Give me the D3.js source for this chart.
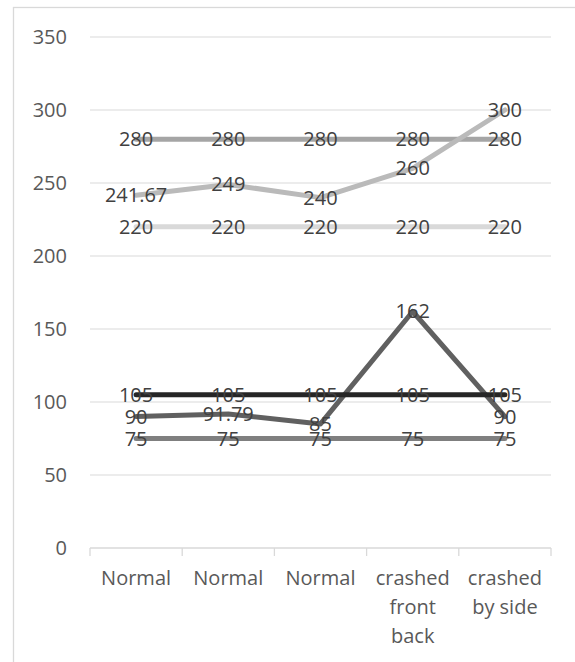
<!DOCTYPE html>
<html>
<head>
<meta charset="utf-8">
<script src="https://cdn.jsdelivr.net/npm/d3@7"></script>
<style>
  body { margin: 0; background: #fff; }
  svg { display: block; font-family: "Open Sans", sans-serif; }
</style>
</head>
<body>
<div id="chart"></div>
<script>
// Chart data
const categories = ["Normal", "Normal", "Normal", "crashed front back", "crashed by side"];
const upperFlat = [280, 280, 280, 280, 280];
const upperVar = [241.67, 249, 240, 260, 300];
const upperBase = [220, 220, 220, 220, 220];
const lowerVar = [90, 91.79, 85, 162, 90];
const lowerFlat = [105, 105, 105, 105, 105];
const lowerBase = [75, 75, 75, 75, 75];
const yTicks = [0, 50, 100, 150, 200, 250, 300, 350];

// draw order, later ones on top
const series = [
  { values: upperFlat, color: '#a5a5a5' },
  { values: upperVar, color: '#bababa' },
  { values: upperBase, color: '#d9d9d9' },
  { values: lowerVar, color: '#606060' },
  { values: lowerFlat, color: '#262626' },
  { values: lowerBase, color: '#7f7f7f' }
];

const W = 575, H = 662;
const margin = { top: 37, right: 24, bottom: 114, left: 90 };
const width = W - margin.left - margin.right;
const height = H - margin.top - margin.bottom;

const svg = d3.select('#chart').append('svg')
  .attr('width', W)
  .attr('height', H);

// outer chart frame
svg.append('rect')
  .attr('x', 13.5).attr('y', 7.5)
  .attr('width', W).attr('height', H)
  .attr('fill', 'none')
  .attr('stroke', '#d9d9d9')
  .attr('stroke-width', 1.3);

const g = svg.append('g')
  .attr('transform', `translate(${margin.left},${margin.top})`);

const x = d3.scaleBand()
  .domain(categories.map((d, i) => i))
  .range([0, width]);

const y = d3.scaleLinear()
  .domain([0, 350])
  .range([height, 0]);

// gridlines
g.append('g')
  .selectAll('line')
  .data(yTicks.filter(t => t > 0))
  .join('line')
  .attr('x1', 0).attr('x2', width)
  .attr('y1', d => y(d)).attr('y2', d => y(d))
  .attr('stroke', '#d9d9d9')
  .attr('stroke-width', 1.2);

// y axis labels
const yAxis = g.append('g')
  .call(d3.axisLeft(y).tickValues(yTicks).tickSize(0).tickPadding(23));
yAxis.select('.domain').remove();
yAxis.selectAll('text')
  .attr('fill', '#595959')
  .style('font-size', '20px')
  .style('font-family', '"Open Sans", sans-serif');

// x axis baseline + ticks at band edges
const xg = g.append('g').attr('transform', `translate(0,${height})`);
xg.append('line')
  .attr('x1', 0).attr('x2', width)
  .attr('stroke', '#d9d9d9').attr('stroke-width', 1.3);
xg.selectAll('line.tick')
  .data(d3.range(categories.length + 1))
  .join('line')
  .attr('class', 'tick')
  .attr('x1', i => i * x.step()).attr('x2', i => i * x.step())
  .attr('y1', 0).attr('y2', 8)
  .attr('stroke', '#d9d9d9').attr('stroke-width', 1.3);

// category labels, wrapped to band width
xg.selectAll('text.cat')
  .data(categories)
  .join('text')
  .attr('class', 'cat')
  .attr('x', (d, i) => x(i) + x.bandwidth() / 2)
  .attr('y', 37)
  .attr('text-anchor', 'middle')
  .attr('fill', '#595959')
  .style('font-size', '20px')
  .each(function(d) {
    const t = d3.select(this);
    const words = d.split(' ');
    const lines = [];
    let cur = [];
    words.forEach(w => {
      const test = cur.concat(w).join(' ');
      t.text(test);
      if (cur.length && this.getComputedTextLength() > x.bandwidth() - 4) {
        lines.push(cur.join(' '));
        cur = [w];
      } else {
        cur.push(w);
      }
    });
    lines.push(cur.join(' '));
    t.text(null);
    lines.forEach((l, k) => {
      t.append('tspan')
        .attr('x', t.attr('x'))
        .attr('dy', k === 0 ? 0 : 29)
        .text(l);
    });
  });

// lines
const line = d3.line()
  .x((d, i) => x(i) + x.bandwidth() / 2)
  .y(d => y(d));

g.append('g')
  .selectAll('path')
  .data(series)
  .join('path')
  .attr('d', s => line(s.values))
  .attr('fill', 'none')
  .attr('stroke', s => s.color)
  .attr('stroke-width', 5)
  .attr('stroke-linejoin', 'round')
  .attr('stroke-linecap', 'round');

// data labels centered on points
series.forEach(s => {
  g.append('g')
    .selectAll('text')
    .data(s.values)
    .join('text')
    .attr('x', (d, i) => x(i) + x.bandwidth() / 2)
    .attr('y', d => y(d))
    .attr('dy', '0.35em')
    .attr('text-anchor', 'middle')
    .attr('fill', '#404040')
    .style('font-size', '20px')
    .text(d => d);
});
</script>
</body>
</html>
